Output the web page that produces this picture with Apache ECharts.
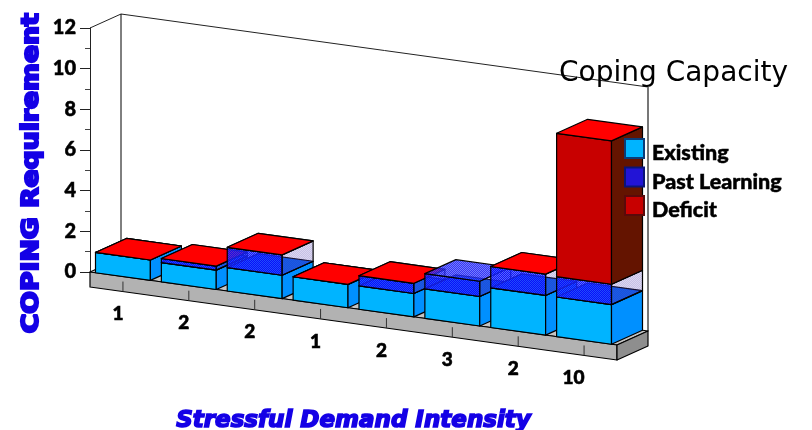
<!DOCTYPE html>
<html>
<head>
<meta charset="utf-8">
<title>Coping Capacity</title>
<script src="https://cdn.jsdelivr.net/npm/echarts@6/dist/echarts.min.js"></script>
<style>
html, body { margin: 0; padding: 0; background: #fff; }
#chart { width: 812px; height: 430px; }
</style>
</head>
<body>
<div id="chart"></div>
<script>
const categories = ['1', '2', '2', '1', '2', '3', '2', '10'];
const existing = [1, 0.95, 1.15, 1.15, 1.15, 1.45, 1.95, 1.95];
const pastLearning = [0, 0.2, 1, 0, 0.5, 0.75, 1.05, 1];
const deficit = [0, 0, 0, 0, 0, null, 0, 7.05];

// fausse perspective : le sol descend vers la droite, la profondeur monte
const slope = 73 / 527;
const depthX = 31;
const depthY = -14;
const slabHeight = 15;
const barRatio = 0.833;

window.onload = init;

function init() {
    drawChart();
}

function hatch(base, line) {
    let c = document.createElement('canvas');
    c.width = 2;
    c.height = 2;
    let ctx = c.getContext('2d');
    ctx.fillStyle = base;
    ctx.fillRect(0, 0, 2, 2);
    ctx.clearRect(0, 0, 1, 1);
    ctx.clearRect(1, 1, 1, 1);
    ctx.fillStyle = line;
    ctx.fillRect(0, 0, 1, 1);
    ctx.fillRect(1, 1, 1, 1);
    return { image: c, repeat: 'repeat' };
}

function project(api, cat, xOff, value, back) {
    let band = api.size([1, 0])[0];
    let left = api.coord([0, 0])[0] - band / 2;
    let p = api.coord([cat, value]);
    let x = p[0] + xOff * band;
    let y = p[1] + (x - left) * slope;
    return back ? [x + depthX, y + depthY] : [x, y];
}

function face(points, fill, z2, stroke) {
    return {
        type: 'polygon',
        z2: z2,
        silent: true,
        shape: { points: points },
        style: { fill: fill, stroke: stroke || '#000', lineWidth: 1.2, lineJoin: 'round' }
    };
}

function renderBox(colors, level) {
    return function (params, api) {
        let cat = api.value(0);
        let v0 = api.value(1);
        let v1 = api.value(2);
        if (isNaN(v1)) {
            return { type: 'group', children: [] };
        }
        let h = barRatio / 2;
        let z = 100 + cat * 10 + level * 3;
        let fl = project(api, cat, -h, v0), fr = project(api, cat, h, v0);
        let tl = project(api, cat, -h, v1), tr = project(api, cat, h, v1);
        let bfr = project(api, cat, h, v0, true), btr = project(api, cat, h, v1, true);
        let btl = project(api, cat, -h, v1, true);
        let children = [];
        if (v1 > v0) {
            children.push(face([fl, fr, tr, tl], colors.front, z));
            children.push(face([fr, bfr, btr, tr], colors.side, z));
        }
        children.push(face([tl, tr, btr, btl], colors.top, z + 1));
        return { type: 'group', children: children };
    };
}

function renderFrame(params, api) {
    let band = api.size([1, 0])[0];
    let n = categories.length;
    let fromStart = -0.5, toEnd = n - 0.5;
    function corner(cat, value, back) {
        let left = api.coord([0, 0])[0] - band / 2;
        let p = api.coord([0, value]);
        let x = left + (cat + 0.5) * band;
        let y = p[1] + (x - left) * slope;
        return back ? [x + depthX, y + depthY] : [x, y];
    }
    let f0 = corner(fromStart, 0), f1 = corner(toEnd, 0);
    let b0 = corner(fromStart, 0, true), b1 = corner(toEnd, 0, true);
    let t0 = corner(fromStart, 12);
    let u0 = corner(fromStart, 12, true), u1 = corner(toEnd, 12, true);
    let d0 = [f0[0], f0[1] + slabHeight], d1 = [f1[0], f1[1] + slabHeight];
    let e1 = [b1[0], b1[1] + slabHeight];

    let children = [
        { type: 'polyline', z2: 1, silent: true, shape: { points: [t0, u0, u1] }, style: { fill: null, stroke: '#222', lineWidth: 1 } },
        { type: 'line', z2: 1, silent: true, shape: { x1: u0[0], y1: u0[1], x2: b0[0], y2: b0[1] }, style: { stroke: '#000', lineWidth: 1 } },
        { type: 'line', z2: 1, silent: true, shape: { x1: u1[0], y1: u1[1], x2: b1[0], y2: b1[1] }, style: { stroke: '#777', lineWidth: 2 } },
        face([f0, f1, b1, b0], '#c4c4c4', 2),
        face([f0, f1, d1, d0], '#b2b2b2', 3),
        face([f1, b1, e1, d1], '#8e8e8e', 3)
    ];
    for (let i = 0; i < n; i++) {
        let base = corner(i, 0);
        let x = base[0];
        let bottom = base[1] + slabHeight;
        children.push({
            type: 'line', z2: 4, silent: true,
            shape: { x1: x, y1: bottom - 10, x2: x, y2: bottom },
            style: { stroke: '#333', lineWidth: 1 }
        });
        children.push({
            type: 'text', z2: 4, silent: true,
            style: {
                x: x + 0.5, y: bottom + 22.5, text: categories[i],
                align: 'right', verticalAlign: 'middle',
                font: '900 19px Lato', fill: '#000', stroke: '#000', lineWidth: 0.6
            }
        });
    }
    return { type: 'group', children: children };
}

function boxData(lower, values) {
    return categories.map((c, i) => {
        let start = lower.reduce((sum, arr) => sum + (arr[i] || 0), 0);
        return [i, start, values[i] === null ? null : start + values[i]];
    });
}

function drawChart() {
    let chart = echarts.init(document.getElementById('chart'), null, { renderer: 'canvas' });

    let options = {
        animation: false,
        title: {
            text: 'Coping Capacity',
            left: 559,
            top: 60,
            padding: 0,
            textStyle: { fontFamily: 'DejaVu Sans', fontSize: 28, fontWeight: 'normal', color: '#000' }
        },
        legend: {
            orient: 'vertical',
            left: 624,
            top: 132.5,
            padding: 0,
            itemWidth: 19,
            itemHeight: 19,
            itemGap: -3.8,
            icon: 'rect',
            data: ['Existing', 'Past Learning', 'Deficit'],
            formatter: name => '{t|' + name + '}',
            textStyle: {
                rich: {
                    t: {
                        fontFamily: 'Lato', fontWeight: 900, fontSize: 21.5, color: '#000',
                        textBorderColor: '#000', textBorderWidth: 0.5,
                        lineHeight: 18, padding: [10, 0, 0, 3]
                    }
                }
            }
        },
        grid: { left: 90, right: 195, top: 28, bottom: 158, outerBoundsMode: 'none' },
        xAxis: {
            type: 'category',
            data: categories,
            name: 'Stressful Demand Intensity',
            nameLocation: 'middle',
            nameGap: 138,
            nameTextStyle: {
                fontFamily: 'DejaVu Sans', fontWeight: 'bold', fontStyle: 'italic', fontSize: 23,
                color: '#1400e6', textBorderColor: '#1400e6', textBorderWidth: 1.6
            },
            axisLine: { show: false },
            axisTick: { show: false },
            axisLabel: { show: false },
            splitLine: { show: false }
        },
        yAxis: {
            type: 'value',
            min: 0,
            max: 12,
            interval: 2,
            axisLine: { show: true, lineStyle: { color: '#222', width: 1 } },
            axisTick: { show: true, length: 10, lineStyle: { color: '#222' } },
            minorTick: { show: true, splitNumber: 2, length: 5, lineStyle: { color: '#444' } },
            axisLabel: {
                margin: 14, fontFamily: 'Lato', fontWeight: 900, fontSize: 20, color: '#000',
                textBorderColor: '#000', textBorderWidth: 0.5
            },
            splitLine: { show: false }
        },
        graphic: [{
            type: 'text',
            left: 19,
            top: 12,
            silent: true,
            rotation: Math.PI / 2,
            scaleX: 1.16,
            style: {
                text: 'COPING Requirement',
                font: 'bold 23px "DejaVu Sans"',
                fill: '#1400e6',
                stroke: '#1400e6',
                lineWidth: 2.2
            }
        }],
        series: [
            {
                name: 'frame',
                type: 'custom',
                coordinateSystem: 'cartesian2d',
                data: [[0, 0]],
                renderItem: renderFrame
            },
            {
                name: 'Existing',
                type: 'custom',
                coordinateSystem: 'cartesian2d',
                itemStyle: { color: '#00b4ff', borderColor: '#0a3c78', borderWidth: 1 },
                encode: { x: 0, y: [1, 2] },
                data: boxData([], existing),
                renderItem: renderBox({ front: '#00b4ff', side: '#0090ff', top: '#0a60f0' }, 0)
            },
            {
                name: 'Past Learning',
                type: 'custom',
                coordinateSystem: 'cartesian2d',
                itemStyle: { color: '#2214d6', borderColor: '#0a1478', borderWidth: 1 },
                encode: { x: 0, y: [1, 2] },
                data: boxData([existing], pastLearning),
                renderItem: renderBox({
                    front: hatch('rgba(10,10,250,0.95)', 'rgba(40,70,255,0.75)'),
                    side: hatch('rgba(70,50,170,0.3)', 'rgba(90,70,190,0.22)'),
                    top: hatch('rgba(20,20,240,0.85)', 'rgba(70,80,255,0.75)')
                }, 1)
            },
            {
                name: 'Deficit',
                type: 'custom',
                coordinateSystem: 'cartesian2d',
                itemStyle: { color: '#c80000', borderColor: '#5a0a0a', borderWidth: 1 },
                encode: { x: 0, y: [1, 2] },
                data: boxData([existing, pastLearning], deficit),
                renderItem: renderBox({ front: '#c80000', side: '#641400', top: '#ff0000' }, 2)
            }
        ]
    };

    // Appliquer les options au graphique
    chart.setOption(options);
}
</script>
</body>
</html>
